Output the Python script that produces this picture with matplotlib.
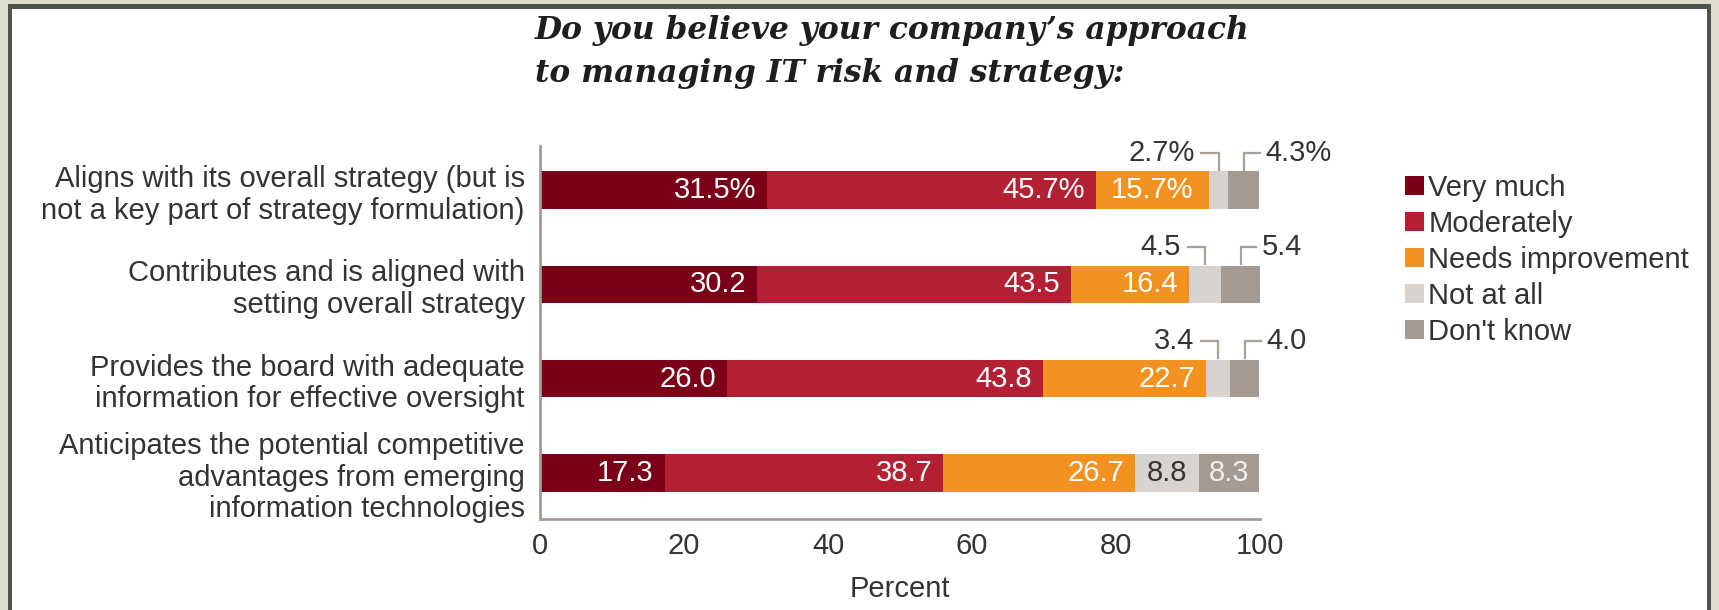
import matplotlib
matplotlib.use("Agg")
import matplotlib.pyplot as plt
from matplotlib.patches import Rectangle

plt.rcParams['font.family'] = ['Liberation Sans', 'DejaVu Sans']

# data
questions = [
    "Aligns with its overall strategy (but is\nnot a key part of strategy formulation)",
    "Contributes and is aligned with\nsetting overall strategy",
    "Provides the board with adequate\ninformation for effective oversight",
    "Anticipates the potential competitive\nadvantages from emerging\ninformation technologies",
]
answers = ["Very much", "Moderately", "Needs improvement", "Not at all", "Don't know"]
very_much = [31.5, 30.2, 26.0, 17.3]
moderately = [45.7, 43.5, 43.8, 38.7]
needs_improvement = [15.7, 16.4, 22.7, 26.7]
not_at_all = [2.7, 4.5, 3.4, 8.8]
dont_know = [4.3, 5.4, 4.0, 8.3]
series = [very_much, moderately, needs_improvement, not_at_all, dont_know]

colors = ['#7b0017', '#b31f33', '#f39221', '#d9d3cf', '#a59a92']
text_colors = ['white', 'white', 'white', '#333333', '#f2f0ee']
bracket_color = '#a8a09a'
FS = 21

fig = plt.figure(figsize=(17.19, 6.10), dpi=100)
W, H = 1719, 610

# frame around the picture
fig.patch.set_facecolor('#dedcca')
fig.patches.append(Rectangle((8 / W, 0), (1711 - 8) / W, 1 - 4 / H,
                             transform=fig.transFigure, facecolor='#50534d', edgecolor='none', zorder=-10))
fig.patches.append(Rectangle((12 / W, 0), (1707 - 12) / W, 1 - 9 / H,
                             transform=fig.transFigure, facecolor='white', edgecolor='none', zorder=-9))

ax = fig.add_axes([540 / W, 1 - 519 / H, 720 / W, (519 - 146) / H])
ax.set_facecolor('none')

ypos = list(range(len(questions)))
left = [0.0] * len(questions)
for k, vals in enumerate(series):
    ax.barh(ypos, vals, left=left, height=0.4, color=colors[k], label=answers[k])
    for i, v in enumerate(vals):
        end = left[i] + v
        lab = f"{v}%" if i == 0 else f"{v}"
        if k == 2 and i == 0:
            ax.text(left[i] + v / 2, i, lab, ha='center', va='center',
                    color=text_colors[k], fontsize=FS)
        elif v >= 8:
            if k >= 3:
                ax.text(left[i] + v / 2, i, lab, ha='center', va='center',
                        color=text_colors[k], fontsize=FS)
            else:
                ax.text(end - 1.5, i, lab, ha='right', va='center',
                        color=text_colors[k], fontsize=FS)
        else:
            # small segments get a label above with a bracket line
            cx = left[i] + v / 2
            top = i - 0.22
            ly = i - 0.4
            if k == 3:
                ax.plot([cx - 2.4, cx, cx], [ly, ly, top], color=bracket_color, lw=1.6,
                        clip_on=False, solid_joinstyle='miter')
                ax.text(cx - 3.3, ly, lab, ha='right', va='center', fontsize=FS,
                        color='#333333', clip_on=False)
            else:
                ax.plot([cx, cx, cx + 2.2], [top, ly, ly], color=bracket_color, lw=1.6,
                        clip_on=False, solid_joinstyle='miter')
                ax.text(cx + 3.0, ly, lab, ha='left', va='center', fontsize=FS,
                        color='#333333', clip_on=False)
        left[i] = end

ax.set_xlim(0, 100)
ax.set_ylim(3.49, -0.47)
ax.set_xticks([0, 20, 40, 60, 80, 100])
ax.set_yticks(ypos)
ax.set_yticklabels(questions, fontsize=FS, color='#333333', linespacing=1.16)
ax.tick_params(axis='both', length=0)
ax.tick_params(axis='y', pad=11)
ax.tick_params(axis='x', pad=9, labelsize=FS, labelcolor='#333333')
ax.set_xlabel("Percent", fontsize=FS, color='#333333', labelpad=11)
for s in ['top', 'right']:
    ax.spines[s].set_visible(False)
for s in ['left', 'bottom']:
    ax.spines[s].set_color('#a39b94')
    ax.spines[s].set_linewidth(2)

leg = ax.legend(loc='upper left', bbox_to_anchor=(1405 / W, 1 - 174 / H),
                bbox_transform=fig.transFigure, frameon=False, fontsize=FS,
                handlelength=0.65, handleheight=0.65, handletextpad=0.15,
                labelspacing=0.27, borderpad=0, borderaxespad=0)
for t in leg.get_texts():
    t.set_color('#333333')

fig.text(535 / W, 1 - 15 / H, "Do you believe your company\u2019s approach\nto managing IT risk and strategy:",
         ha='left', va='top', fontsize=22.5, fontweight='bold', fontstyle='italic',
         family='DejaVu Serif', color='#1e1e1e', linespacing=1.5)

fig.savefig("out.png", dpi=100, facecolor=fig.get_facecolor())
